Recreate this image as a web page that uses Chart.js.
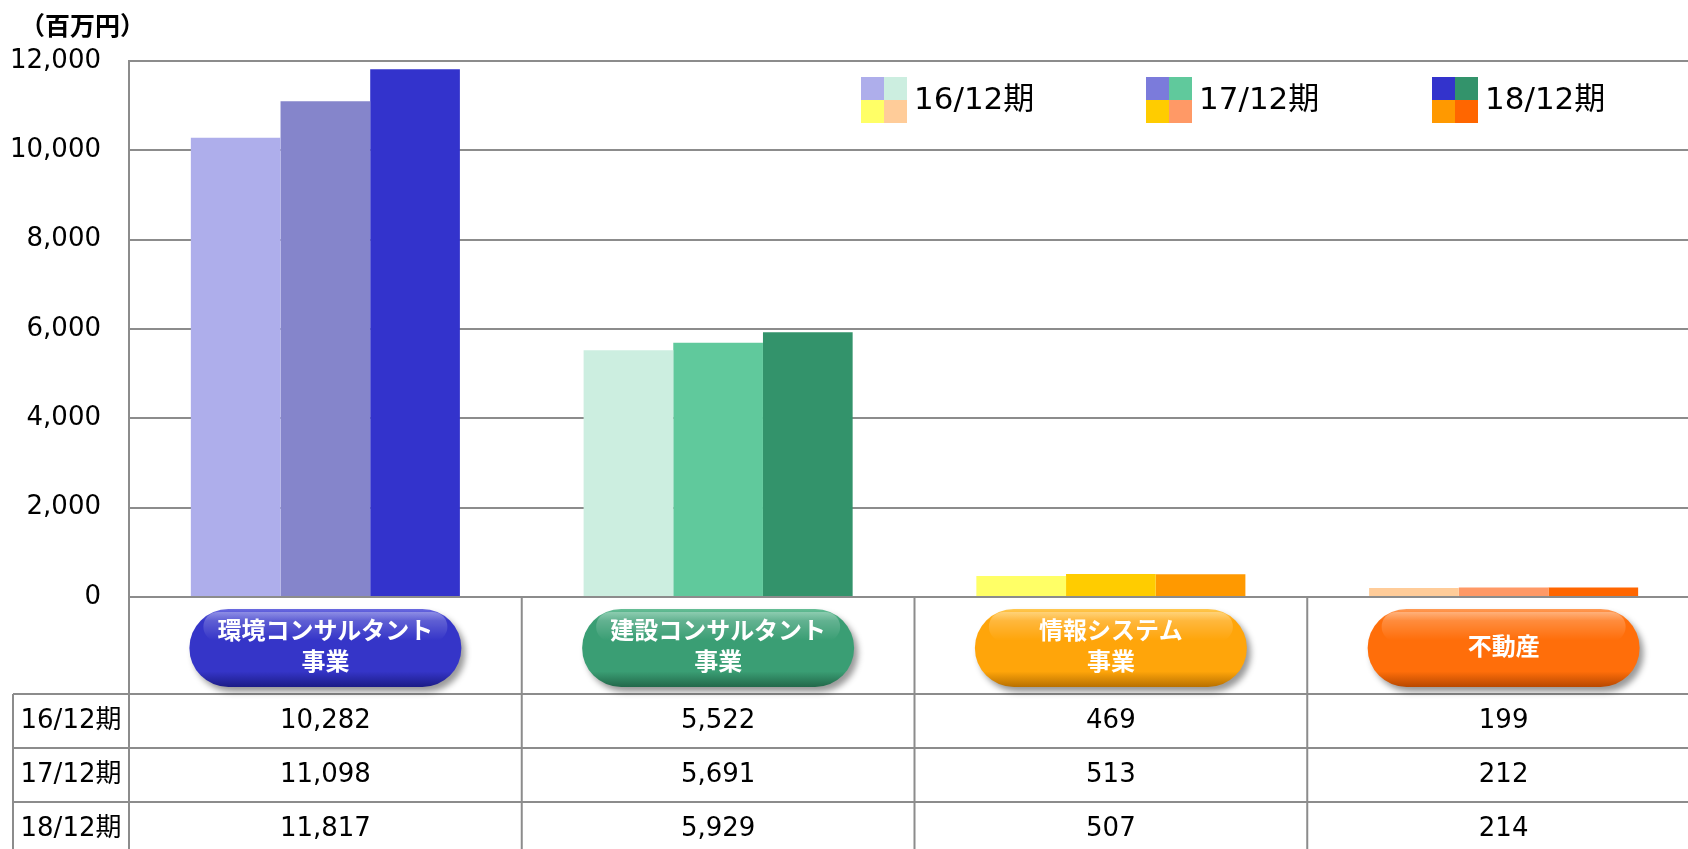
<!DOCTYPE html>
<html lang="ja">
<head>
<meta charset="UTF-8">
<title>セグメント別売上高</title>
<script src="https://cdn.jsdelivr.net/npm/chart.js"></script>
<style>
  html, body { margin: 0; padding: 0; background: #fff; overflow: hidden; }
  #wrap { width: 1688px; height: 849px; overflow: hidden; }
</style>
</head>
<body>
<div id="wrap">
  <canvas id="segChart" width="1700" height="849"></canvas>
</div>
<script>
// カテゴリ（セグメント）
const categories = [
  ['環境コンサルタント', '事業'],
  ['建設コンサルタント', '事業'],
  ['情報システム', '事業'],
  ['不動産']
];
const periods = ['16/12期', '17/12期', '18/12期'];

// 売上高（百万円）
const sales16 = [10282, 5522, 469, 199];
const sales17 = [11098, 5691, 513, 212];
const sales18 = [11817, 5929, 507, 214];

// 各期・各セグメントの色
const colors16 = ['#aeaeeb', '#cceee0', '#ffff66', '#ffcc99'];
const colors17 = ['#8585cb', '#60c99c', '#ffcc00', '#ff9966'];
const colors18 = ['#3333cc', '#33936b', '#ff9900', '#ff6600'];
const legendColors = [
  ['#aeaeeb', '#cceee0', '#ffff66', '#ffcc99'],
  ['#7b7bdb', '#60c99c', '#ffcc00', '#ff9966'],
  ['#3333cc', '#33936b', '#ff9900', '#ff6600']
];
// ボタン色 [明, 基本, 暗]
const pillColors = [
  ['#6a6ae0', '#3535c8', '#1c1c86'],
  ['#66be96', '#3a9e74', '#22684a'],
  ['#ffc850', '#ffa50a', '#b87000'],
  ['#ff9a55', '#ff6e0a', '#b84800']
];

const yTicks = [0, 2000, 4000, 6000, 8000, 10000, 12000];

const numFont = '"DejaVu Sans", "Noto Sans CJK JP", sans-serif';
const jpFont = '"Noto Sans CJK JP", sans-serif';
const lineColor = '#8c8c8c';

function pill(ctx, cx, cy, w, h, c) {
  const x = cx - w / 2, y = cy - h / 2, r = h / 2;
  ctx.save();
  ctx.shadowColor = 'rgba(0,0,0,0.4)';
  ctx.shadowOffsetX = 4;
  ctx.shadowOffsetY = 5;
  ctx.shadowBlur = 6;
  const g = ctx.createLinearGradient(0, y, 0, y + h);
  g.addColorStop(0, c[0]);
  g.addColorStop(0.15, c[1]);
  g.addColorStop(0.8, c[1]);
  g.addColorStop(1, c[2]);
  ctx.fillStyle = g;
  ctx.beginPath();
  ctx.roundRect(x, y, w, h, r);
  ctx.fill();
  ctx.restore();
  // 光沢
  ctx.save();
  const hl = ctx.createLinearGradient(0, y + 3, 0, y + h * 0.4);
  hl.addColorStop(0, 'rgba(255,255,255,0.3)');
  hl.addColorStop(1, 'rgba(255,255,255,0)');
  ctx.fillStyle = hl;
  ctx.beginPath();
  ctx.roundRect(x + 14, y + 3, w - 28, h * 0.38, h * 0.19);
  ctx.fill();
  ctx.restore();
}

const tablePlugin = {
  id: 'tablePlugin',
  afterDraw(chart) {
    const ctx = chart.ctx;
    const area = chart.chartArea;
    const xs = chart.scales.x;
    const half = (xs.getPixelForValue(1) - xs.getPixelForValue(0)) / 2;
    const tableLeft = 13;
    const catRowBottom = area.bottom + 97;
    const rowH = 54;
    const bottom = chart.height;

    // 単位
    ctx.save();
    ctx.fillStyle = '#000';
    ctx.font = 'bold 25px ' + jpFont;
    ctx.textBaseline = 'middle';
    ctx.textAlign = 'left';
    ctx.fillText('（百万円）', 20, 25);
    ctx.restore();

    // 凡例
    const legX = [861, 1146, 1432];
    ctx.save();
    chart.data.datasets.forEach((ds, i) => {
      const lx = legX[i], ly = 77, s = 23;
      const c = legendColors[i];
      ctx.fillStyle = c[0]; ctx.fillRect(lx, ly, s, s);
      ctx.fillStyle = c[1]; ctx.fillRect(lx + s, ly, s, s);
      ctx.fillStyle = c[2]; ctx.fillRect(lx, ly + s, s, s);
      ctx.fillStyle = c[3]; ctx.fillRect(lx + s, ly + s, s, s);
      ctx.fillStyle = '#000';
      ctx.font = '31px ' + numFont;
      ctx.textBaseline = 'middle';
      ctx.textAlign = 'left';
      ctx.fillText(ds.label, lx + 53, ly + s + 1);
    });
    ctx.restore();

    // 表の罫線
    ctx.save();
    ctx.strokeStyle = lineColor;
    ctx.lineWidth = 2;
    ctx.beginPath();
    ctx.moveTo(area.left, area.bottom);
    ctx.lineTo(area.left, bottom);
    ctx.moveTo(tableLeft, catRowBottom);
    ctx.lineTo(tableLeft, bottom);
    chart.data.labels.forEach((l, i) => {
      const bx = xs.getPixelForValue(i) + half;
      ctx.moveTo(bx, area.bottom);
      ctx.lineTo(bx, bottom);
    });
    for (let r = 0; r < 3; r++) {
      const ry = catRowBottom + r * rowH;
      ctx.moveTo(tableLeft, ry);
      ctx.lineTo(area.right, ry);
    }
    ctx.stroke();
    ctx.restore();

    // カテゴリボタン
    chart.data.labels.forEach((lines, i) => {
      const cx = xs.getPixelForValue(i);
      const cy = area.bottom + 51;
      pill(ctx, cx, cy, 272, 78, pillColors[i]);
      ctx.save();
      ctx.fillStyle = '#fff';
      ctx.font = 'bold 24px ' + jpFont;
      ctx.textAlign = 'center';
      ctx.textBaseline = 'middle';
      if (lines.length === 1) {
        ctx.fillText(lines[0], cx, cy - 2);
      } else {
        ctx.fillText(lines[0], cx, cy - 18);
        ctx.fillText(lines[1], cx, cy + 13);
      }
      ctx.restore();
    });

    // 数値
    ctx.save();
    ctx.fillStyle = '#000';
    ctx.textBaseline = 'middle';
    ctx.textAlign = 'center';
    chart.data.datasets.forEach((ds, r) => {
      const cy = catRowBottom + r * rowH + rowH / 2;
      ctx.font = '26px ' + numFont;
      ctx.fillText(ds.label, (tableLeft + area.left) / 2, cy);
      ds.data.forEach((v, i) => {
        ctx.fillText(v.toLocaleString('en-US'), xs.getPixelForValue(i), cy);
      });
    });
    ctx.restore();
  }
};

const ctx = document.getElementById('segChart').getContext('2d');
new Chart(ctx, {
  type: 'bar',
  data: {
    labels: categories,
    datasets: [
      { label: periods[0], data: sales16, backgroundColor: colors16 },
      { label: periods[1], data: sales17, backgroundColor: colors17 },
      { label: periods[2], data: sales18, backgroundColor: colors18 }
    ]
  },
  options: {
    responsive: false,
    animation: false,
    layout: { padding: { top: 61, bottom: 252, left: 0, right: 0 } },
    datasets: {
      bar: { categoryPercentage: 0.685, barPercentage: 1.0, borderWidth: 0 }
    },
    plugins: {
      legend: { display: false },
      tooltip: { enabled: false }
    },
    scales: {
      x: { display: false },
      y: {
        min: 0,
        max: 12000,
        afterFit(s) { s.width = 129; },
        afterBuildTicks(s) { s.ticks = yTicks.map(v => ({ value: v })); },
        ticks: {
          color: '#000',
          padding: 28,
          font: { family: numFont, size: 26 },
          callback: v => v.toLocaleString('en-US')
        },
        grid: { color: lineColor, lineWidth: 2, drawTicks: false },
        border: { color: lineColor, width: 2 }
      }
    }
  },
  plugins: [tablePlugin]
});
</script>
</body>
</html>
